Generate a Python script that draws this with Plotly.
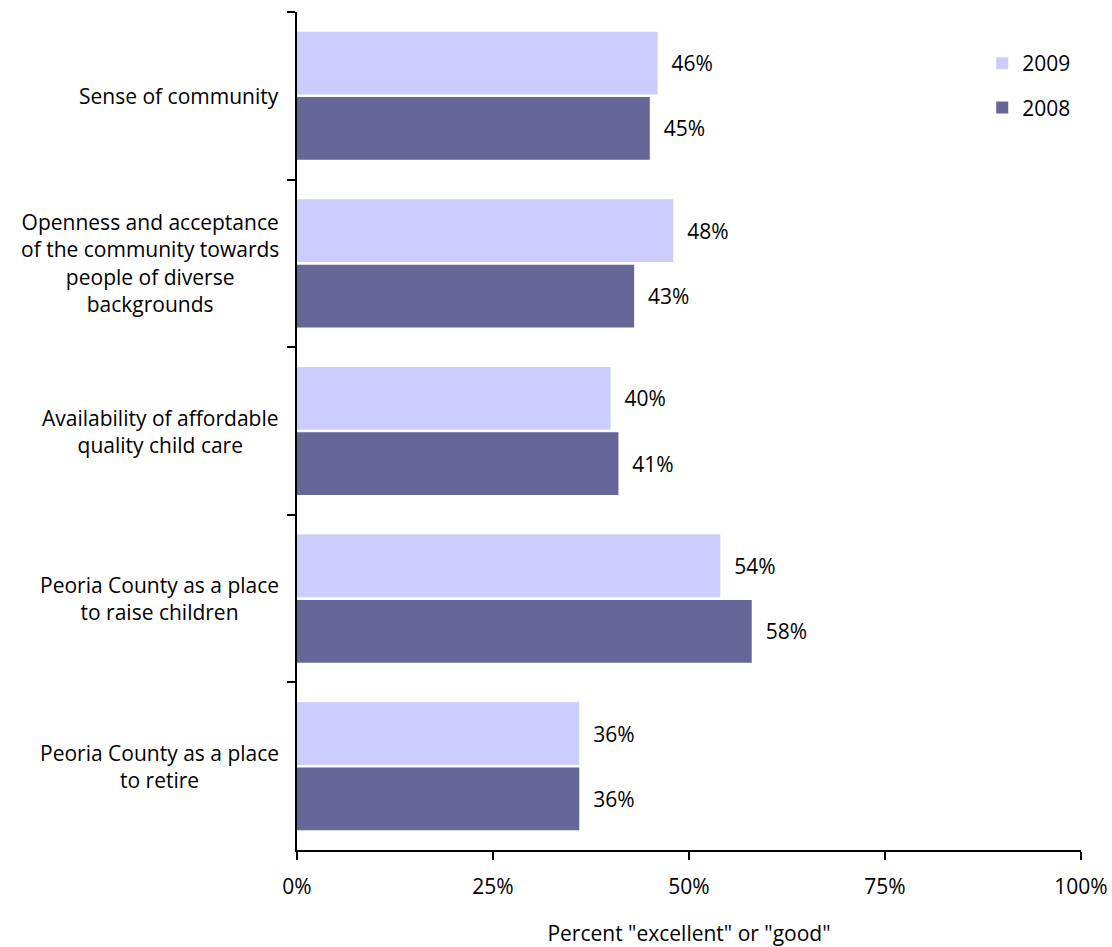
import plotly.graph_objects as go

categories = [
    "Sense of community",
    "Openness and acceptance<br>of the community towards<br>people of diverse<br>backgrounds",
    "Availability of affordable<br>quality child care",
    "Peoria County as a place<br>to raise children",
    "Peoria County as a place<br>to retire",
]
values_2009 = [46, 48, 40, 54, 36]
values_2008 = [45, 43, 41, 58, 36]
x_ticks = [0, 25, 50, 75, 100]
x_tick_labels = ["0%", "25%", "50%", "75%", "100%"]

FONT = "Open Sans"
FS = 21
PAD = "\u00a0\u00a0"

fig = go.Figure()
fig.add_trace(go.Bar(
    y=categories, x=values_2009, name="2009", orientation="h",
    marker=dict(color="#CCCCFF", line=dict(width=0)),
    text=[f"{PAD}{v}%" for v in values_2009], textposition="outside",
    textfont=dict(size=FS, color="#000000", family=FONT),
    cliponaxis=False, legendgroup="a",
))
fig.add_trace(go.Bar(
    y=categories, x=values_2008, name="2008", orientation="h",
    marker=dict(color="#666699", line=dict(width=0)),
    text=[f"{PAD}{v}%" for v in values_2008], textposition="outside",
    textfont=dict(size=FS, color="#000000", family=FONT),
    cliponaxis=False, legendgroup="b",
))

# Category labels: right-aligned block, lines centred within it
for cat in categories:
    fig.add_annotation(
        xref="paper", yref="y", x=-0.0205, y=cat, text=cat,
        xanchor="right", yanchor="middle", align="center",
        showarrow=False, font=dict(size=FS, family=FONT, color="#000000"),
    )

fig.update_layout(
    width=1112, height=947,
    margin=dict(l=297, r=31, t=12, b=97),
    plot_bgcolor="white", paper_bgcolor="white",
    font=dict(family=FONT, size=FS, color="#000000"),
    barmode="group", bargap=0.22, bargroupgap=0.04,
    showlegend=True,
    legend=dict(
        x=0.874, y=0.963, xanchor="left", yanchor="top",
        traceorder="grouped", tracegroupgap=14,
        font=dict(size=FS, family=FONT), bgcolor="rgba(0,0,0,0)",
    ),
    xaxis=dict(
        range=[0, 100], tickvals=x_ticks, ticktext=x_tick_labels,
        showgrid=False, zeroline=False, automargin=False,
        showline=True, linecolor="#000000", linewidth=2,
        ticks="outside", ticklen=8, tickwidth=2, tickcolor="#000000",
        tickfont=dict(size=FS, family=FONT), ticklabelstandoff=9,
        title=dict(text='Percent "excellent" or "good"', standoff=30,
                   font=dict(size=FS, family=FONT)),
    ),
    yaxis=dict(
        autorange="reversed", type="category",
        showgrid=False, zeroline=False, automargin=False,
        showline=True, linecolor="#000000", linewidth=2,
        ticks="outside", ticklen=8, tickwidth=2, tickcolor="#000000",
        tickson="boundaries", showticklabels=False,
    ),
)

fig.write_html("out.html")
